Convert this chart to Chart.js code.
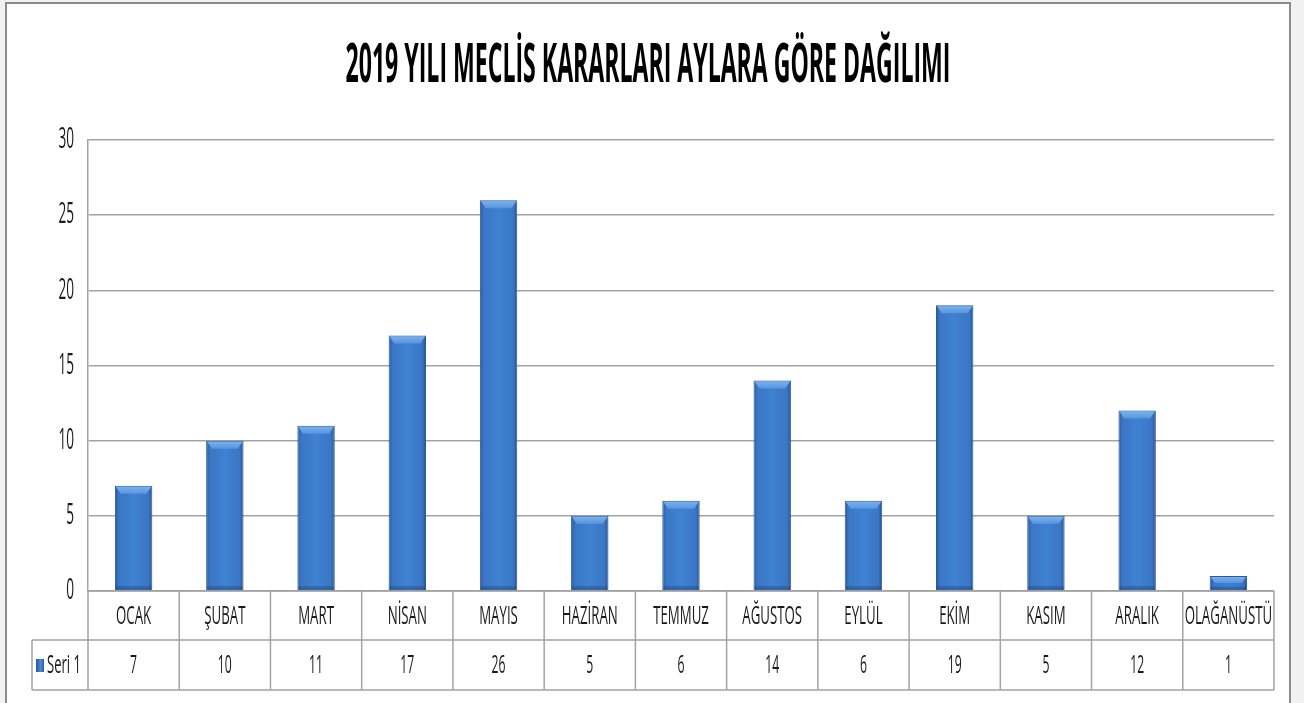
<!DOCTYPE html>
<html>
<head>
<meta charset="utf-8">
<script src="https://cdn.jsdelivr.net/npm/chart.js@4"></script>
<style>
  html, body { margin: 0; padding: 0; background: #f1f1f1; overflow: hidden; }
  #wrap { width: 1304px; height: 703px; }
</style>
</head>
<body>
<div id="wrap"><canvas id="chart" width="1304" height="703"></canvas></div>
<script>
// data
const months = ["OCAK", "ŞUBAT", "MART", "NİSAN", "MAYIS", "HAZİRAN", "TEMMUZ",
                "AĞUSTOS", "EYLÜL", "EKİM", "KASIM", "ARALIK", "OLAĞANÜSTÜ"];
const seri1 = [7, 10, 11, 17, 26, 5, 6, 14, 6, 19, 5, 12, 1];
const seriesName = "Seri 1";
const chartTitle = "2019 YILI MECLİS KARARLARI AYLARA GÖRE DAĞILIMI";

const FONT = "'Open Sans', 'Noto Sans', sans-serif";
const GRID = "#a3a3a3";
const INK = "#1a1a1a";
const BAR_PCT = 0.41;
const SQUEEZE = 0.47;   // the picture's text is very narrow
const LABEL_SQUEEZE = 0.53;

// draw text squeezed horizontally
function squeezed(c, text, x, y, size, weight, sx, align) {
  c.save();
  c.font = (weight || "normal") + " " + size + "px " + FONT;
  c.textBaseline = "middle";
  c.textAlign = align || "center";
  c.translate(x, y);
  c.scale(sx, 1);
  c.fillText(text, 0, 0);
  c.restore();
}

// gradient across each bar
function barFill(ctx) {
  const chart = ctx.chart;
  const xs = chart.scales.x;
  if (!xs || ctx.dataIndex === undefined) return "#3b78c6";
  const cx = xs.getPixelForValue(ctx.dataIndex);
  const half = xs.width / months.length * BAR_PCT / 2;
  if (!isFinite(cx) || !isFinite(half) || half <= 0) return "#3b78c6";
  const g = chart.ctx.createLinearGradient(cx - half, 0, cx + half, 0);
  g.addColorStop(0, "#2a5796");
  g.addColorStop(0.1, "#3a76c4");
  g.addColorStop(0.5, "#3f81d2");
  g.addColorStop(0.9, "#3a76c4");
  g.addColorStop(1, "#264f8a");
  return g;
}

const framePlugin = {
  id: "frame",
  beforeDraw(chart) {
    const c = chart.ctx;
    c.save();
    c.fillStyle = "#f1f1f1";
    c.fillRect(0, 0, chart.width, chart.height);
    c.fillStyle = "#ffffff";
    c.fillRect(6, 3, 1284, 710);
    c.strokeStyle = "#8c8c8c";
    c.lineWidth = 2;
    c.strokeRect(6, 3, 1284, 710);
    // title
    c.fillStyle = "#000";
    c.font = "bold 53px " + FONT;
    const w = c.measureText(chartTitle).width;
    squeezed(c, chartTitle, 648, 67, 53, "bold", 605 / w, "center");
    // y tick labels from the scale
    const ys = chart.scales.y;
    c.fillStyle = INK;
    ys.ticks.forEach(t => {
      squeezed(c, String(t.value), ys.right - 14, ys.getPixelForValue(t.value), 29, "normal", SQUEEZE, "right");
    });
    c.restore();
  }
};

// lighter top bevel on each bar
const bevelPlugin = {
  id: "bevel",
  afterDatasetsDraw(chart) {
    const c = chart.ctx;
    chart.getDatasetMeta(0).data.forEach(bar => {
      const p = bar.getProps(["x", "y", "base", "width"], true);
      const l = p.x - p.width / 2, r = p.x + p.width / 2;
      const b = Math.min(8, (p.base - p.y) / 2);
      c.save();
      const g = c.createLinearGradient(0, p.y, 0, p.y + b);
      g.addColorStop(0, "#7db4f0");
      g.addColorStop(1, "#5795de");
      c.fillStyle = g;
      c.beginPath();
      c.moveTo(l + 1, p.y + 1);
      c.lineTo(r - 1, p.y + 1);
      c.lineTo(r - 1 - b * 0.6, p.y + b);
      c.lineTo(l + 1 + b * 0.6, p.y + b);
      c.closePath();
      c.fill();
      // darker bottom band
      const bb = Math.min(4, (p.base - p.y) / 4);
      c.fillStyle = "rgba(30,60,110,0.35)";
      c.fillRect(l + 1, p.base - bb, p.width - 2, bb);
      c.restore();
    });
  }
};

const tablePlugin = {
  id: "dataTable",
  afterDraw(chart) {
    const c = chart.ctx;
    const xs = chart.scales.x;
    const area = chart.chartArea;
    const top = area.bottom;
    const mid = top + 49;
    const bot = top + 99;
    const step = xs.width / months.length;
    const left = area.left, right = area.right;
    c.save();
    c.strokeStyle = GRID;
    c.lineWidth = 1.5;
    c.beginPath();
    c.moveTo(left, top); c.lineTo(right, top);
    c.moveTo(32, mid); c.lineTo(right, mid);
    c.moveTo(32, bot); c.lineTo(right, bot);
    for (let i = 0; i <= months.length; i++) {
      const x = left + i * step;
      c.moveTo(x, top); c.lineTo(x, bot);
    }
    c.moveTo(32, mid); c.lineTo(32, bot);
    c.stroke();

    c.fillStyle = INK;
    months.forEach((m, i) => {
      squeezed(c, m, xs.getPixelForValue(i), (top + mid) / 2 + 1, 25, "normal", LABEL_SQUEEZE, "center");
    });
    seri1.forEach((v, i) => {
      squeezed(c, String(v), xs.getPixelForValue(i), (mid + bot) / 2 + 1, 26, "normal", SQUEEZE, "center");
    });
    // legend key
    const ky = (mid + bot) / 2;
    const g = c.createLinearGradient(36, 0, 45, 0);
    g.addColorStop(0, "#2a5796");
    g.addColorStop(0.5, "#4a8ad8");
    g.addColorStop(1, "#264f8a");
    c.fillStyle = g;
    c.fillRect(36, ky - 6, 8, 13);
    c.fillStyle = INK;
    squeezed(c, seriesName, 47, ky + 1, 26, "normal", 0.5, "left");
    c.restore();
  }
};

new Chart(document.getElementById("chart"), {
  type: "bar",
  data: {
    labels: months,
    datasets: [{
      label: seriesName,
      data: seri1,
      backgroundColor: barFill,
      borderColor: "#2b5a98",
      borderWidth: 1,
      barPercentage: BAR_PCT,
      categoryPercentage: 1
    }]
  },
  options: {
    responsive: false,
    animation: false,
    layout: { padding: { left: 20, right: 30, top: 140, bottom: 12 } },
    plugins: {
      legend: { display: false },
      tooltip: { enabled: false },
      title: { display: false }
    },
    scales: {
      x: {
        grid: { display: false },
        border: { display: false },
        ticks: { display: false },
        afterFit(scale) { scale.height = 100; }
      },
      y: {
        min: 0,
        max: 30,
        ticks: { stepSize: 5, display: false },
        grid: { color: GRID, lineWidth: 1.5, drawTicks: false },
        border: { color: GRID, width: 1.5 },
        afterFit(scale) { scale.width = 68; }
      }
    }
  },
  plugins: [framePlugin, bevelPlugin, tablePlugin]
});
</script>
</body>
</html>
